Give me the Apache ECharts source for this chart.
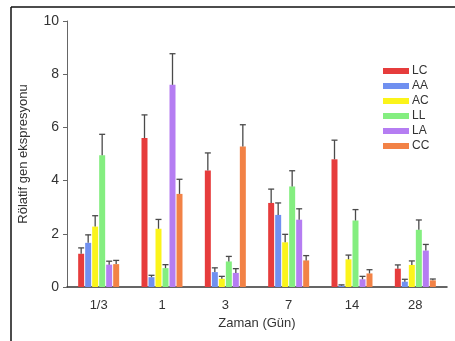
<!DOCTYPE html>
<html>
<head>
<meta charset="utf-8">
<script src="https://cdn.jsdelivr.net/npm/echarts@6/dist/echarts.min.js"></script>
<style>html,body{margin:0;padding:0;background:#fff}#c{width:455px;height:341px}</style>
</head>
<body>
<div id="c"></div>
<script>
var categories = ['1/3', '1', '3', '7', '14', '28'];
var seriesNames = ['LC', 'AA', 'AC', 'LL', 'LA', 'CC'];
var LC = [1.25, 5.6, 4.38, 3.16, 4.8, 0.69];
var LC_err = [1.47, 6.47, 5.04, 3.68, 5.52, 0.83];
var AA = [1.66, 0.37, 0.56, 2.71, 0.05, 0.2];
var AA_err = [1.96, 0.44, 0.72, 3.16, 0.08, 0.29];
var AC = [2.27, 2.19, 0.31, 1.68, 1.04, 0.83];
var AC_err = [2.68, 2.54, 0.4, 1.98, 1.2, 0.98];
var LL = [4.95, 0.71, 0.96, 3.78, 2.5, 2.15];
var LL_err = [5.74, 0.84, 1.15, 4.37, 2.91, 2.52];
var LA = [0.84, 7.6, 0.53, 2.53, 0.29, 1.37];
var LA_err = [0.97, 8.77, 0.69, 2.94, 0.4, 1.6];
var CC = [0.86, 3.5, 5.28, 1.0, 0.51, 0.25];
var CC_err = [1.0, 4.05, 6.1, 1.18, 0.65, 0.3];
var yTicks = [0, 2, 4, 6, 8, 10];

var values = [LC, AA, AC, LL, LA, CC];
var errs = [LC_err, AA_err, AC_err, LL_err, LA_err, CC_err];
var colors = ['#e63c3c', '#7090f0', '#fbf41a', '#84ee80', '#b57df2', '#f28246'];

var BAR_W = 6, GAP = 1;
var n = seriesNames.length;
var series = [];
seriesNames.forEach(function (name, i) {
  series.push({
    name: name, type: 'bar', data: values[i], barWidth: BAR_W,
    barGap: (GAP / BAR_W * 100) + '%',
    itemStyle: { color: colors[i] }, z: 2
  });
});
seriesNames.forEach(function (name, i) {
  var offset = (i - (n - 1) / 2) * (BAR_W + GAP);
  series.push({
    name: name + '_err', type: 'custom', z: 3,
    data: values[i].map(function (v, k) { return [k, v, errs[i][k]]; }),
    encode: { x: 0, y: [1, 2] },
    renderItem: function (params, api) {
      var p1 = api.coord([api.value(0), api.value(1)]);
      var p2 = api.coord([api.value(0), api.value(2)]);
      var x = p1[0] + offset;
      var st = { stroke: '#4a4a4a', lineWidth: 1.3 };
      return {
        type: 'group',
        children: [
          { type: 'line', shape: { x1: x, y1: p1[1], x2: x, y2: p2[1] }, style: st },
          { type: 'line', shape: { x1: x - BAR_W / 2, y1: p2[1], x2: x + BAR_W / 2, y2: p2[1] }, style: st }
        ]
      };
    }
  });
});

var chart = echarts.init(document.getElementById('c'));
chart.setOption({
  animation: false,
  backgroundColor: '#fff',
  textStyle: { fontFamily: 'Liberation Sans, Arial, sans-serif' },
  graphic: [
    { type: 'line', shape: { x1: 11, y1: 7, x2: 455, y2: 7 }, style: { stroke: '#111', lineWidth: 1.5 } },
    { type: 'line', shape: { x1: 11, y1: 7, x2: 11, y2: 341 }, style: { stroke: '#111', lineWidth: 1.5 } }
  ],
  grid: { left: 67, right: 8, top: 21, bottom: 54 },
  legend: {
    data: seriesNames, orient: 'vertical', left: 378, top: 60,
    itemWidth: 26, itemHeight: 6, itemGap: 3, icon: 'rect',
    textStyle: { fontSize: 12, color: '#333', lineHeight: 12, padding: [0, 0, 0, -2] }
  },
  xAxis: {
    type: 'category', data: categories,
    name: 'Zaman (Gün)', nameLocation: 'middle', nameGap: 30,
    nameTextStyle: { fontSize: 13, color: '#333' },
    axisLine: { lineStyle: { color: '#333', width: 1.5 } },
    axisTick: { alignWithLabel: true, length: 3, lineStyle: { color: '#333' } },
    axisLabel: { fontSize: 13, color: '#333', margin: 12 }
  },
  yAxis: {
    type: 'value', min: 0, max: 10, interval: 2,
    name: 'Rölatif gen ekspresyonu', nameLocation: 'middle', nameGap: 37,
    nameTextStyle: { fontSize: 13, color: '#333' },
    axisLine: { show: true, lineStyle: { color: '#666' } },
    axisTick: { show: true, length: 4, lineStyle: { color: '#666' } },
    axisLabel: { fontSize: 14, color: '#333', margin: 8,
      formatter: function (v) { return yTicks.indexOf(v) >= 0 ? String(v) : ''; } },
    splitLine: { show: false }
  },
  series: series
});
</script>
</body>
</html>
